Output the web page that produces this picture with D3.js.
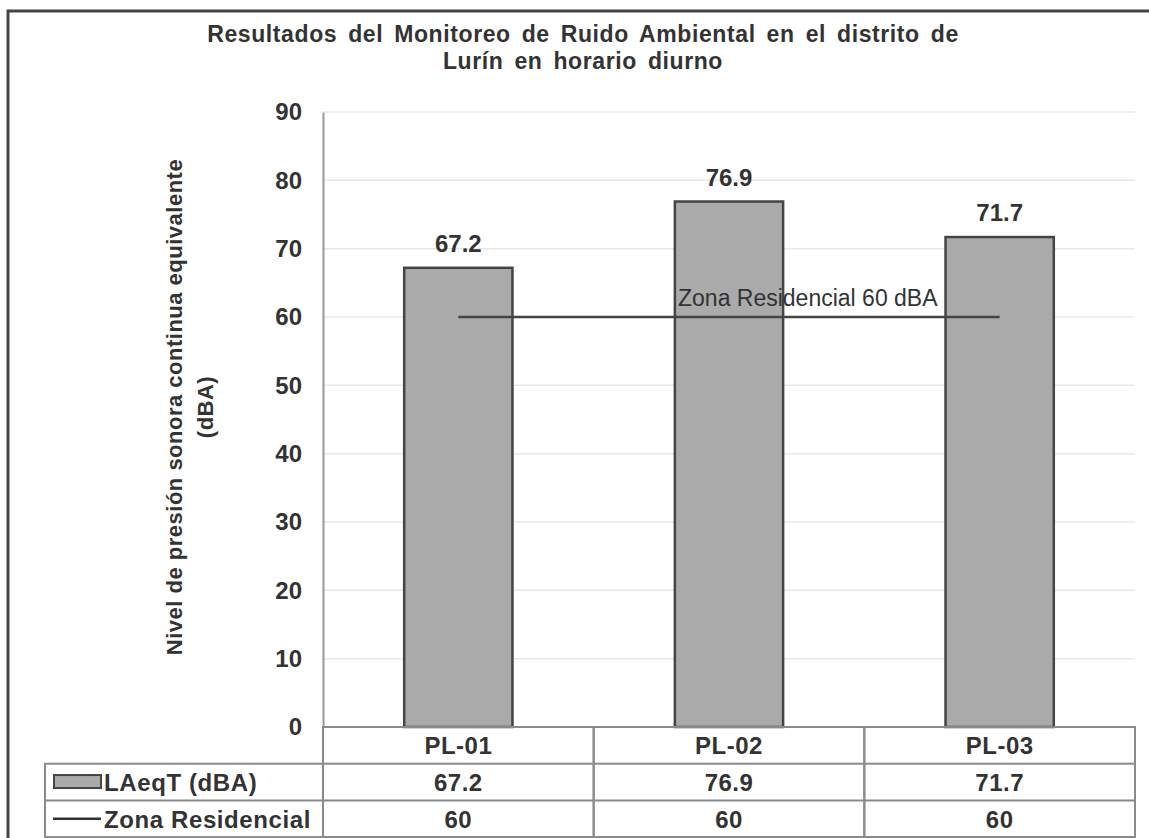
<!DOCTYPE html>
<html>
<head>
<meta charset="utf-8">
<script src="https://cdn.jsdelivr.net/npm/d3@7"></script>
<style>
  body { margin: 0; background: #fff; }
  svg { display: block; font-family: "Liberation Sans", Arial, sans-serif; }
</style>
</head>
<body>
<svg width="1149" height="838"></svg>
<script>
// chart data
var categories = ["PL-01", "PL-02", "PL-03"];
var laeq = [67.2, 76.9, 71.7];
var zona = [60, 60, 60];
var yTicks = [0, 10, 20, 30, 40, 50, 60, 70, 80, 90];
var seriesNames = ["LAeqT (dBA)", "Zona Residencial"];

var svg = d3.select("svg");

var plotLeft = 323, plotRight = 1135, plotTop = 112, plotBottom = 727;

var x = d3.scaleBand()
    .domain(categories)
    .range([plotLeft, plotRight]);

var y = d3.scaleLinear()
    .domain([0, 90])
    .range([plotBottom, plotTop]);

var textCol = "#333";

// outer frame
svg.append("path")
    .attr("d", "M8,838V11H1149")
    .attr("fill", "none")
    .attr("stroke", "#444")
    .attr("stroke-width", 3);

// title
var title = svg.append("text")
    .attr("text-anchor", "middle")
    .attr("font-weight", "bold")
    .attr("font-size", "23px")
    .attr("letter-spacing", "0.6px")
    .attr("word-spacing", "4px")
    .attr("fill", textCol);
title.append("tspan").attr("x", 583).attr("y", 42)
    .text("Resultados  del Monitoreo de Ruido Ambiental en el distrito de");
title.append("tspan").attr("x", 583).attr("y", 69)
    .text("Lurín en horario diurno");

// gridlines
svg.append("g")
    .selectAll("line")
    .data(yTicks.filter(function (d) { return d > 0; }))
    .enter().append("line")
    .attr("x1", plotLeft)
    .attr("x2", plotRight)
    .attr("y1", function (d) { return y(d); })
    .attr("y2", function (d) { return y(d); })
    .attr("stroke", "#e8e8e8")
    .attr("stroke-width", 1.5);

// y axis
var yAxis = svg.append("g")
    .attr("transform", "translate(" + plotLeft + ",0)")
    .call(d3.axisLeft(y).tickValues(yTicks).tickSize(0).tickPadding(21));
yAxis.select(".domain").attr("stroke", "#999").attr("stroke-width", 2);
yAxis.selectAll("text")
    .attr("font-family", "Liberation Sans, Arial, sans-serif")
    .attr("font-size", "24px")
    .attr("font-weight", "bold")
    .attr("fill", textCol);

// y axis title
var yt = svg.append("text")
    .attr("transform", "translate(0,407) rotate(-90)")
    .attr("text-anchor", "middle")
    .attr("font-weight", "bold")
    .attr("font-size", "22px")
    .attr("letter-spacing", "0.5px")
    .attr("fill", textCol);
yt.append("tspan").attr("x", 0).attr("y", 182)
    .text("Nivel de presión sonora continua equivalente");
yt.append("tspan").attr("x", 0).attr("y", 213)
    .text("(dBA)");

// bars
var barW = x.bandwidth() * 0.40;
function cx(c) { return x(c) + x.bandwidth() / 2; }

svg.append("g")
    .selectAll("rect")
    .data(laeq)
    .enter().append("rect")
    .attr("x", function (d, i) { return cx(categories[i]) - barW / 2; })
    .attr("y", function (d) { return y(d); })
    .attr("width", barW)
    .attr("height", function (d) { return y(0) - y(d); })
    .attr("fill", "#aaaaaa")
    .attr("stroke", "#444")
    .attr("stroke-width", 2.5);

// bar labels
svg.append("g")
    .selectAll("text")
    .data(laeq)
    .enter().append("text")
    .attr("x", function (d, i) { return cx(categories[i]); })
    .attr("y", function (d) { return y(d) - 16; })
    .attr("text-anchor", "middle")
    .attr("font-weight", "bold")
    .attr("font-size", "24px")
    .attr("fill", textCol)
    .text(function (d) { return d.toFixed(1); });

// zona residencial line
var line = d3.line()
    .x(function (d, i) { return cx(categories[i]); })
    .y(function (d) { return y(d); });

svg.append("path")
    .datum(zona)
    .attr("d", line)
    .attr("fill", "none")
    .attr("stroke", "#444")
    .attr("stroke-width", 2.5);

svg.append("text")
    .attr("x", 678)
    .attr("y", y(60) - 11)
    .attr("font-size", "23px")
    .attr("fill", textCol)
    .text("Zona Residencial 60 dBA");

// data table
var rowH = 36.7;
var legendLeft = 45;
var tbl = svg.append("g")
    .attr("fill", "none")
    .attr("stroke", "#8a8a8a")
    .attr("stroke-width", 2);

categories.forEach(function (c) {
    tbl.append("rect")
        .attr("x", x(c)).attr("y", plotBottom)
        .attr("width", x.bandwidth()).attr("height", rowH * 3);
});
tbl.append("rect")
    .attr("x", legendLeft).attr("y", plotBottom + rowH)
    .attr("width", plotRight - legendLeft).attr("height", rowH * 2);
tbl.append("line")
    .attr("x1", legendLeft).attr("x2", plotRight)
    .attr("y1", plotBottom + rowH * 2).attr("y2", plotBottom + rowH * 2);

var cellText = svg.append("g")
    .attr("text-anchor", "middle")
    .attr("font-weight", "bold")
    .attr("font-size", "24px")
    .attr("letter-spacing", "0.5px")
    .attr("fill", textCol);

categories.forEach(function (c, i) {
    cellText.append("text")
        .attr("x", cx(c)).attr("y", plotBottom + rowH * 0.5 + 9)
        .text(c);
    cellText.append("text")
        .attr("x", cx(c)).attr("y", plotBottom + rowH * 1.5 + 9)
        .text(laeq[i].toFixed(1));
    cellText.append("text")
        .attr("x", cx(c)).attr("y", plotBottom + rowH * 2.5 + 9)
        .text(zona[i]);
});

// legend keys
svg.append("rect")
    .attr("x", 54).attr("y", plotBottom + rowH * 1.5 - 7)
    .attr("width", 47).attr("height", 13)
    .attr("fill", "#aaaaaa")
    .attr("stroke", "#444")
    .attr("stroke-width", 2);
svg.append("line")
    .attr("x1", 53).attr("x2", 101)
    .attr("y1", plotBottom + rowH * 2.5).attr("y2", plotBottom + rowH * 2.5)
    .attr("stroke", "#333")
    .attr("stroke-width", 2.5);

svg.append("g")
    .attr("font-weight", "bold")
    .attr("font-size", "24px")
    .attr("letter-spacing", "0.6px")
    .attr("fill", textCol)
    .selectAll("text")
    .data(seriesNames)
    .enter().append("text")
    .attr("x", 104)
    .attr("y", function (d, i) { return plotBottom + rowH * (1.5 + i) + 9; })
    .text(function (d) { return d; });
</script>
</body>
</html>
